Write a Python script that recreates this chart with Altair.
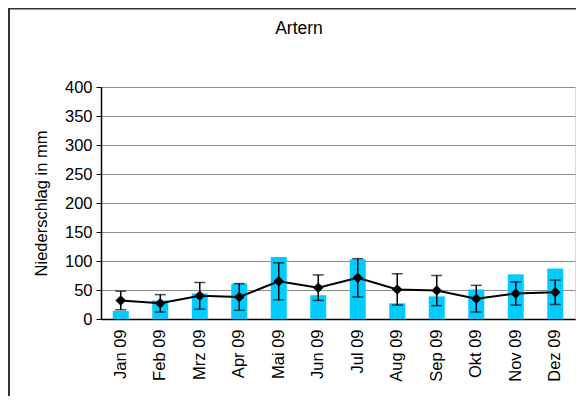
import altair as alt
import pandas as pd

months = ["Jan 09", "Feb 09", "Mrz 09", "Apr 09", "Mai 09", "Jun 09",
          "Jul 09", "Aug 09", "Sep 09", "Okt 09", "Nov 09", "Dez 09"]
bar_values = [14, 32, 44, 61, 107, 41, 103, 27, 39, 51, 77, 87]
mean_values = [32, 27, 40, 38, 65, 54, 71, 51, 49, 35, 44, 46]
err_values = [16, 15, 23, 23, 32, 22, 33, 27, 26, 23, 20, 21]

df = pd.DataFrame({
    "Monat": months,
    "Niederschlag": bar_values,
    "Mittel": mean_values,
    "low": [m - e for m, e in zip(mean_values, err_values)],
    "high": [m + e for m, e in zip(mean_values, err_values)],
})

FONT = "Liberation Sans"
FS = 16.5

x_axis = alt.Axis(labelAngle=-90, labelFontSize=FS, labelFont=FONT,
                  labelColor="black", ticks=False, labelPadding=10,
                  domainColor="black", domainWidth=1.5, grid=False, title=None)
x_scale = alt.Scale(paddingInner=0, paddingOuter=0)
y_scale = alt.Scale(domain=[0, 400], nice=False)
y_axis = alt.Axis(values=[0, 50, 100, 150, 200, 250, 300, 350, 400],
                  labelFontSize=FS, labelFont=FONT, labelColor="black",
                  tickColor="black", tickSize=5, labelPadding=4,
                  domainColor="black", domainWidth=1.5,
                  gridColor="#8c8c8c", gridWidth=1, labelOverlap=False,
                  title="Niederschlag in mm", titleFontSize=FS, titleFont=FONT,
                  titleFontWeight="normal", titleColor="black", titlePadding=15)


def X():
    return alt.X("Monat:N", sort=months, scale=x_scale, axis=x_axis, title=None)


def Y(field):
    return alt.Y(field, type="quantitative", scale=y_scale, axis=y_axis,
                 title="Niederschlag in mm")


base = alt.Chart(df)

bars = base.mark_bar(color="#00CCFF", size=16).encode(x=X(), y=Y("Niederschlag"))
rules = base.mark_rule(color="black", strokeWidth=1.5).encode(x=X(), y=Y("low"), y2="high:Q")
caps_hi = base.mark_tick(color="black", size=11, thickness=1.5, orient="horizontal").encode(
    x=X(), y=Y("high"))
caps_lo = base.mark_tick(color="black", size=11, thickness=1.5, orient="horizontal").encode(
    x=X(), y=Y("low"))
line = base.mark_line(color="black", strokeWidth=2).encode(x=X(), y=Y("Mittel"))
points = base.mark_point(shape="diamond", filled=True, color="black", size=110, opacity=1).encode(
    x=X(), y=Y("Mittel"))

frame_data = alt.Data(values=[{"k": 1}])
border_top = alt.Chart(frame_data).mark_rule(color="#333333", strokeWidth=2, clip=False).encode(
    x=alt.value(-92), x2=alt.value(600), y=alt.value(-78.5))
border_left = alt.Chart(frame_data).mark_rule(color="#333333", strokeWidth=2, clip=False).encode(
    x=alt.value(-92), y=alt.value(-79), y2=alt.value(400))
title_text = alt.Chart(frame_data).mark_text(
    text="Artern", font=FONT, fontSize=17.5, color="black", align="center", baseline="middle"
).encode(x=alt.value(198), y=alt.value(-58))

chart = alt.layer(bars, rules, caps_hi, caps_lo, line, points,
                  border_top, border_left, title_text).properties(
    width=474,
    height=232,
    autosize=alt.AutoSizeParams(type="none"),
    padding={"left": 93, "top": 79, "right": 1, "bottom": 77},
).configure_view(stroke="#8c8c8c", strokeWidth=1).configure(background="white")

chart.save("out.html", embed_options={"renderer": "svg", "actions": False})
